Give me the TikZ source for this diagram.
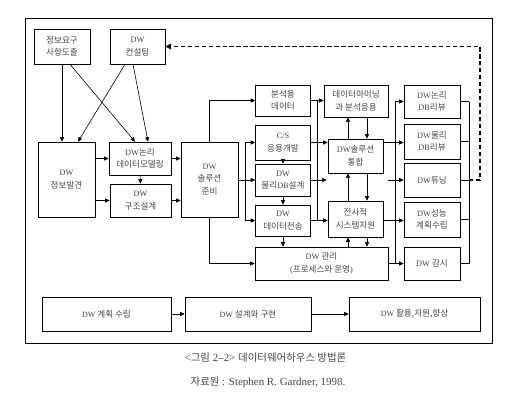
\documentclass[tikz,border=0pt]{standalone}
\usepackage{fontspec}
\setmainfont{Liberation Serif}
\newfontfamily\hangul{Noto Sans CJK KR}
\newcommand\K[1]{{\hangul\fontsize{8.6}{12}\selectfont #1}}
\newcommand\KC[1]{{\hangul\fontsize{10.5}{13}\selectfont #1}}
\usetikzlibrary{arrows.meta,calc}
\definecolor{ink}{RGB}{70,70,70}
\tikzset{
  every picture/.style={line width=0.6pt},
  box/.style={draw=black, fill=white, inner sep=1pt, align=center, text=ink,
    font=\fontsize{8.3}{12.5}\selectfont},
  wh/.style 2 args={minimum width=#1bp, minimum height=#2bp},
  phase/.style={box, minimum height=34bp, font=\fontsize{8}{12}\selectfont},
  flow/.style={-{Triangle[length=4.5pt,width=4pt]}},
  feedback/.style={-{Triangle[length=5.5pt,width=5.5pt]}, line width=1.3pt, dash pattern=on 4.5pt off 2.5pt},
  frame/.style={draw=black, line width=1pt},
  captext/.style={text=ink, inner sep=0pt, font=\fontsize{11}{13}\selectfont},
}

\begin{document}
\begin{tikzpicture}[x=1bp,y=-1bp]
  \useasboundingbox (0,0) rectangle (531,415);
  \draw[frame] (25,18) rectangle (492,343);
  % requirements and consulting
  \node[box, wh={56}{35}] (req) at (62,46.5) {\K{정보요구}\\\K{사항도출}};
  \node[box, wh={55}{35}] (cons) at (137.5,46.5) {DW\\\K{컨설팅}};
  % discovery and design
  \node[box, wh={57}{75}] (disc) at (66.5,179.5) {DW\\\K{정보발견}};
  \node[box, wh={62}{33}] (lmod) at (140,158.5) {DW\K{논리}\\\K{데이터모델링}};
  \node[box, wh={61}{33}] (arch) at (140.5,200.5) {DW\\\K{구조설계}};
  \node[box, wh={57}{75}] (prep) at (209.5,179.5) {DW\\\K{솔루션}\\\K{준비}};
  % build column
  \node[box, wh={55}{31}] (anal) at (283,100.5) {\K{분석용}\\\K{데이터}};
  \node[box, wh={55}{35}] (csdev) at (283,142.5) {C/S\\\K{응용개발}};
  \node[box, wh={55}{32}] (pdb) at (283,180) {DW\\\K{물리}DB\K{설계}};
  \node[box, wh={55}{31}] (xfer) at (283,220.5) {DW\\\K{데이터전송}};
  \node[box, wh={133}{33}] (mgmt) at (321.5,263.5) {DW \K{관리}\\(\K{프로세스와 운영})};
  % integration column
  \node[box, wh={64}{32}] (mine) at (356,101) {\K{데이터마이닝}\\\K{과 분석응용}};
  \node[box, wh={55}{34}] (integ) at (355.5,156) {DW\K{솔루션}\\\K{통합}};
  \node[box, wh={55}{36}] (ent) at (355.5,219) {\K{전사적}\\\K{시스템지원}};
  % review column
  \node[box, wh={56}{33}] (lrev) at (432,101.5) {DW\K{논리}\\DB\K{리뷰}};
  \node[box, wh={56}{35}] (prev) at (432,141.5) {DW\K{물리}\\DB\K{리뷰}};
  \node[box, wh={56}{34}] (tune) at (432,180) {DW\K{튜닝}};
  \node[box, wh={56}{35}] (perf) at (432,219.5) {DW\K{성능}\\\K{계획수립}};
  \node[box, wh={56}{33}] (mon) at (432,263.5) {DW \K{감시}};
  % phases
  \node[phase, minimum width=129bp] (plan) at (106.5,314) {DW \K{계획 수립}};
  \node[phase, minimum width=126bp] (impl) at (248,314) {DW \K{설계와 구현}};
  \node[phase, minimum width=131bp] (use) at (414.5,314) {DW \K{활용,지원,향상}};

  \draw[flow] (req.south) -- (req.south |- disc.north);
  \draw[flow] ($(req.south)+(8,0)$) -- ($(lmod.north)+(-5,0)$);
  \draw[flow] ($(cons.south)+(-12.5,0)$) -- ($(disc.north)+(11.5,0)$);
  \draw[flow] ($(cons.south)+(-4.5,0)$) -- ($(lmod.north)+(8,0)$);
  \draw[flow] (disc.east |- lmod) -- (lmod.west);
  \draw[flow] (disc.east |- arch) -- (arch.west);
  \draw[flow] (lmod.south) -- (arch.north);
  \draw[flow] (lmod.east) -- (lmod.east -| prep.west);
  \draw[flow] (arch.east) -- (arch.east -| prep.west);
  % out of the solution box
  \draw[flow] (prep.north) |- (anal.west);
  \draw[flow] (prep.south) |- (mgmt.west);
  \coordinate (split) at (245,180);
  \draw[flow] (prep.east |- pdb) -- (pdb.west);
  \draw[flow] (split) |- (csdev.west);
  \draw[flow] (split) |- (xfer.west);
  \draw[flow] (csdev.south) -- (pdb.north);
  \draw[flow] (pdb.south) -- (xfer.north);
  \draw[flow] (xfer.south) -- (xfer.south |- mgmt.north);
  % bus to the integration column
  \coordinate (busB) at (317,0);
  \draw (busB |- anal.east) -- (busB |- xfer.east);
  \draw[flow] (anal.east) -- (anal.east -| mine.west);
  \draw[flow] (csdev.east) -- (csdev.east -| integ.west);
  \draw[flow] (pdb.east) -- ($(pdb.east -| integ.west)+(-1,0)$);
  \draw[flow] (xfer.east) -- (xfer.east -| ent.west);
  \coordinate (up) at (348,0);
  \coordinate (dn) at (367,0);
  \foreach \a/\b in {integ/mine, ent/integ, mgmt/ent} {
    \draw[flow] (\a.north -| up) -- (\b.south -| up);
    \draw[flow] (\b.south -| dn) -- (\a.north -| dn);
  }
  % bus to the review column
  \coordinate (busC) at (395,0);
  \draw (busC |- lrev) -- (busC |- mgmt);
  \draw[flow] (busC |- lrev) -- (lrev.west);
  \draw[flow] (integ.east |- csdev) -- (prev.west |- csdev);
  \coordinate (stub) at (388,180);
  \draw[flow] (stub) -- (tune.west);
  \draw[flow] (ent.east |- xfer) -- (perf.west |- xfer);
  \draw[flow] (mgmt.east) -- (mon.west);
  % collector and feedback to consulting
  \coordinate (busD) at (469,0);
  \foreach \n in {lrev,prev,tune,perf,mon} \draw (\n.east) -- (\n.east -| busD);
  \draw (busD |- lrev) -- (busD |- mon);
  \draw[feedback] (busD |- tune) -- ++(11,0) |- (cons.east);
  \draw[flow] (plan) -- (impl);
  \draw[flow] (impl) -- (use);

  \node[captext] (title) at (265.5,358) {<\KC{그림} 2--2> \KC{데이터웨어하우스 방법론}};
  \node[captext] (source) at (268,382) {\KC{자료원} : Stephen R. Gardner, 1998.};
\end{tikzpicture}
\end{document}
